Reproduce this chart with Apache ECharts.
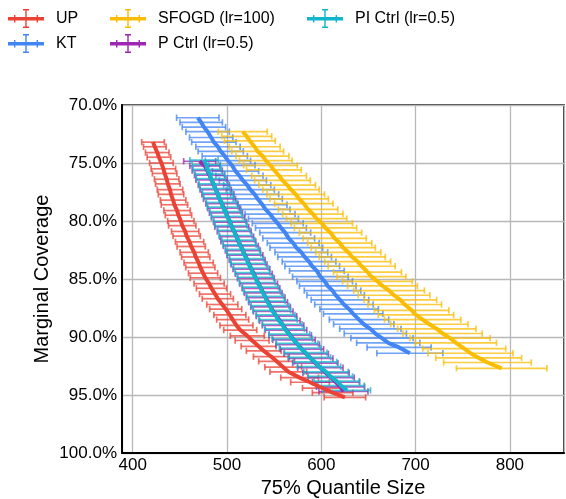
<!DOCTYPE html>
<html>
<head>
<meta charset="utf-8">
<script src="https://cdn.jsdelivr.net/npm/echarts@6/dist/echarts.min.js"></script>
<style>
html, body { margin: 0; padding: 0; background: #ffffff; }
#chart { width: 566px; height: 499px; }
</style>
</head>
<body>
<div id="chart"></div>
<script>
// Tick labels
const xTicks = [400, 500, 600, 700, 800];
const yTicks = [70, 75, 80, 85, 90, 95, 100];

// UP
const upCov = [73.2, 73.6, 74.1, 74.5, 75.0, 75.5, 75.9, 76.4, 76.8, 77.3,
  77.7, 78.2, 78.6, 79.1, 79.5, 80.0, 80.4, 80.9, 81.3, 81.8,
  82.2, 82.7, 83.1, 83.6, 84.0, 84.5, 84.9, 85.4, 85.8, 86.3,
  86.7, 87.2, 87.6, 88.1, 88.5, 89.0, 89.4, 89.9, 90.3, 90.8,
  91.2, 91.7, 92.1, 92.6, 93.0, 93.5, 93.9, 94.4, 94.8, 95.2];
const upSize = [421.5, 423.4, 426.0, 427.8, 430.4, 432.5, 433.8, 436.0, 437.2, 439.5,
  440.6, 442.8, 444.2, 447.0, 448.5, 451.0, 452.5, 455.6, 457.2, 460.3,
  462.0, 465.2, 466.8, 469.9, 471.7, 474.6, 477.0, 481.0, 483.5, 487.3,
  490.2, 495.0, 498.6, 503.0, 506.0, 510.0, 514.0, 521.5, 526.6, 533.5,
  539.0, 547.0, 552.6, 559.6, 565.0, 577.0, 588.0, 601.0, 612.0, 625.0];
const upErr = [12, 12, 12.5, 12.5, 12.5, 13, 13, 13, 13, 13.5,
  13.5, 13.5, 14, 14, 14, 14, 14.5, 14.5, 14.5, 15,
  15, 15, 15, 15.5, 15.5, 15.5, 16, 16, 16, 16.5,
  16.5, 16.5, 17, 17, 17, 17.5, 17.5, 18, 18, 18.5,
  18.5, 19, 19, 19.5, 19.5, 20, 20.5, 21, 21.5, 22];

// KT
const ktCov = [71.1, 71.5, 71.9, 72.3, 72.8, 73.2, 73.6, 74.0, 74.4, 74.8,
  75.2, 75.7, 76.1, 76.5, 76.9, 77.3, 77.7, 78.1, 78.6, 79.0,
  79.4, 79.8, 80.2, 80.6, 81.0, 81.5, 81.9, 82.3, 82.7, 83.1,
  83.5, 83.9, 84.3, 84.8, 85.2, 85.6, 86.0, 86.4, 86.8, 87.2,
  87.6, 88.0, 88.5, 88.9, 89.3, 89.7, 90.1, 90.5, 90.9, 91.4];
const ktSize = [469.0, 472.6, 475.5, 479.4, 483.2, 486.0, 490.4, 493.3, 497.6, 501.0,
  505.2, 509.0, 513.2, 516.8, 521.4, 524.7, 529.3, 532.6, 537.6, 540.8,
  545.6, 549.2, 553.8, 557.2, 561.7, 565.4, 570.2, 573.5, 578.8, 582.3,
  587.0, 590.4, 595.3, 599.0, 603.6, 606.8, 611.9, 615.2, 619.8, 624.0,
  629.5, 633.8, 640.0, 645.0, 652.0, 657.3, 664.3, 671.0, 682.5, 693.9];
const ktErr = [22.5, 22.5, 23, 23, 23, 23.5, 23.5, 24, 24, 24,
  24.5, 24.5, 25, 25, 25, 25.5, 25.5, 26, 26, 26,
  26.5, 26.5, 27, 27, 27, 27.5, 27.5, 28, 28, 28.5,
  28.5, 29, 29, 29.5, 29.5, 30, 30, 30.5, 30.5, 31,
  31, 31.5, 31.5, 32, 32.5, 33, 33, 33.5, 34, 35];

// SFOGD (lr=100)
const sfCov = [72.3, 72.7, 73.1, 73.6, 74.0, 74.4, 74.8, 75.2, 75.6, 76.1,
  76.5, 76.9, 77.3, 77.7, 78.1, 78.5, 79.0, 79.4, 79.8, 80.2,
  80.6, 81.0, 81.5, 81.9, 82.3, 82.7, 83.1, 83.5, 83.9, 84.4,
  84.8, 85.2, 85.6, 86.0, 86.4, 86.8, 87.2, 87.7, 88.1, 88.5,
  88.9, 89.3, 89.7, 90.1, 90.5, 91.0, 91.4, 91.8, 92.2, 92.7];
const sfSize = [516.7, 520.9, 524.2, 529.3, 532.5, 537.6, 541.2, 546.1, 549.7, 555.2,
  558.8, 563.8, 567.9, 572.9, 576.5, 581.4, 586.0, 591.0, 595.0, 600.6,
  604.5, 609.8, 614.2, 619.5, 623.3, 628.6, 632.8, 638.5, 642.8, 649.0,
  653.2, 659.6, 664.9, 671.9, 677.1, 683.8, 688.5, 695.8, 700.4, 707.5,
  714.6, 722.5, 728.7, 736.6, 742.8, 751.6, 758.3, 766.9, 776.2, 791.3];
const sfErr = [26, 26.5, 27, 27, 27.5, 28, 28, 28.5, 29, 29,
  29.5, 30, 30, 30.5, 31, 31, 31.5, 32, 32, 32.5,
  33, 33, 33.5, 34, 34, 34.5, 35, 35, 35.5, 36,
  36.5, 37, 37, 37.5, 38, 38.5, 39, 39.5, 40, 40.5,
  41, 41.5, 42, 42.5, 43, 44, 45, 45.5, 46.5, 48];

// P Ctrl (lr=0.5)
const pCov = [74.85, 75.25, 75.65, 76.05, 76.45, 76.9, 77.3, 77.7, 78.1, 78.5,
  78.9, 79.3, 79.7, 80.1, 80.5, 80.9, 81.35, 81.75, 82.15, 82.55,
  82.95, 83.35, 83.75, 84.15, 84.55, 84.95, 85.4, 85.8, 86.2, 86.6,
  87.0, 87.4, 87.8, 88.2, 88.6, 89.0, 89.4, 89.85, 90.25, 90.65,
  91.05, 91.45, 91.85, 92.25, 92.65, 93.1, 93.5, 93.9, 94.3, 94.7];
const pSize = [471.0, 476.5, 479.0, 481.5, 483.5, 486.0, 488.0, 490.3, 492.0, 494.5,
  496.6, 498.8, 501.0, 503.2, 505.0, 507.6, 510.2, 512.0, 514.6, 516.8,
  519.0, 521.4, 523.4, 525.9, 528.4, 530.6, 533.5, 536.0, 538.4, 541.0,
  543.6, 546.2, 549.0, 552.4, 556.0, 559.4, 562.6, 567.0, 571.0, 575.0,
  579.4, 584.0, 588.8, 593.6, 599.0, 605.0, 610.4, 615.6, 620.4, 623.5];
const pErr = [17, 16, 16, 16, 16.5, 16.5, 16.5, 17, 17, 17,
  17, 17.5, 17.5, 17.5, 18, 18, 18, 18.5, 18.5, 18.5,
  19, 19, 19, 19.5, 19.5, 19.5, 20, 20, 20, 20.5,
  20.5, 21, 21, 21.5, 21.5, 22, 22, 22.5, 22.5, 23,
  23, 23.5, 23.5, 24, 24, 24.5, 24.5, 25, 25.5, 26];

// PI Ctrl (lr=0.5)
const piCov = [74.75, 75.15, 75.55, 75.95, 76.35, 76.8, 77.2, 77.6, 78.0, 78.4,
  78.8, 79.2, 79.6, 80.0, 80.4, 80.8, 81.25, 81.65, 82.05, 82.45,
  82.85, 83.25, 83.65, 84.05, 84.45, 84.85, 85.3, 85.7, 86.1, 86.5,
  86.9, 87.3, 87.7, 88.1, 88.5, 88.9, 89.3, 89.75, 90.15, 90.55,
  90.95, 91.35, 91.75, 92.15, 92.55, 93.0, 93.4, 93.8, 94.2, 94.6];
const piSize = [475.6, 477.9, 479.0, 481.8, 483.0, 485.9, 487.2, 490.0, 491.3, 494.2,
  495.4, 498.4, 499.9, 502.9, 504.3, 507.3, 509.0, 512.0, 513.4, 516.4,
  517.8, 520.8, 522.3, 525.5, 527.0, 530.2, 532.1, 535.4, 537.2, 540.5,
  542.2, 545.6, 547.4, 551.6, 554.0, 558.6, 561.0, 566.2, 569.2, 574.4,
  577.5, 583.4, 587.3, 593.4, 597.6, 605.0, 609.6, 616.3, 621.0, 627.2];
const piErr = [15, 15, 15, 15.5, 15.5, 15.5, 16, 16, 16, 16,
  16.5, 16.5, 16.5, 17, 17, 17, 17.5, 17.5, 17.5, 18,
  18, 18, 18.5, 18.5, 18.5, 19, 19, 19, 19.5, 19.5,
  19.5, 20, 20, 20.5, 20.5, 21, 21, 21.5, 21.5, 22,
  22, 22.5, 22.5, 23, 23, 23.5, 23.5, 24, 24.5, 25];

const methods = [
  { name: 'UP', color: '#ea4335', cov: upCov, size: upSize, err: upErr },
  { name: 'KT', color: '#4285f4', cov: ktCov, size: ktSize, err: ktErr },
  { name: 'SFOGD (lr=100)', color: '#fbbc04', cov: sfCov, size: sfSize, err: sfErr },
  { name: 'P Ctrl (lr=0.5)', color: '#9c27b0', cov: pCov, size: pSize, err: pErr },
  { name: 'PI Ctrl (lr=0.5)', color: '#12b5cb', cov: piCov, size: piSize, err: piErr }
];

const FONT = 'Liberation Sans, Arial, Helvetica, sans-serif';

// Legend glyph: line with horizontal and vertical error bars
const errIcon = 'path://M0 8H36V11.5H0Z M17.3 0H18.7V19H17.3Z M15 0H21V1.4H15Z M15 17.6H21V19H15Z ' +
  'M6 6H7.4V13.5H6Z M28.6 6H30V13.5H28.6Z';

function errorBarRenderer(color) {
  return function (params, api) {
    const x = api.value(0), y = api.value(1), e = api.value(2);
    const a = api.coord([x - e, y]);
    const b = api.coord([x + e, y]);
    const style = { stroke: color, lineWidth: 1.7, opacity: 0.75 };
    const h = 3.2;
    return {
      type: 'group',
      children: [
        { type: 'line', shape: { x1: a[0], y1: a[1], x2: b[0], y2: b[1] }, style: style },
        { type: 'line', shape: { x1: a[0], y1: a[1] - h, x2: a[0], y2: a[1] + h }, style: style },
        { type: 'line', shape: { x1: b[0], y1: b[1] - h, x2: b[0], y2: b[1] + h }, style: style }
      ]
    };
  };
}

const series = [];
methods.forEach(function (m) {
  const pts = m.cov.map(function (c, i) { return [m.size[i], c, m.err[i]]; });
  series.push({
    name: m.name,
    type: 'custom',
    renderItem: errorBarRenderer(m.color),
    encode: { x: 0, y: 1 },
    itemStyle: { color: m.color },
    data: pts,
    silent: true
  });
  series.push({
    name: m.name,
    type: 'line',
    data: pts.map(function (p) { return [p[0], p[1]]; }),
    showSymbol: false,
    symbol: 'none',
    color: m.color,
    itemStyle: { color: m.color },
    lineStyle: { color: m.color, width: 4 },
    silent: true
  });
});

function legendBlock(names, left) {
  return {
    orient: 'vertical',
    left: left,
    top: 4,
    itemWidth: 36,
    itemHeight: 19,
    itemGap: 6,
    icon: errIcon,
    itemStyle: { borderWidth: 0 },
    selectedMode: false,
    textStyle: { fontSize: 16, color: '#000', fontFamily: FONT, padding: [0, 0, 0, 7] },
    data: names.map(function (n) { return { name: n, icon: errIcon }; })
  };
}

const chart = echarts.init(document.getElementById('chart'), null, { renderer: 'canvas' });
chart.setOption({
  animation: false,
  backgroundColor: '#ffffff',
  textStyle: { fontFamily: FONT },
  legend: [
    legendBlock(['UP', 'KT'], 3),
    legendBlock(['SFOGD (lr=100)', 'P Ctrl (lr=0.5)'], 105),
    legendBlock(['PI Ctrl (lr=0.5)'], 302)
  ],
  grid: {
    left: 122, right: 2, top: 105, bottom: 46,
    outerBoundsMode: 'none',
    containLabel: false,
    show: true, borderColor: '#000', borderWidth: 1.5, backgroundColor: 'transparent'
  },
  xAxis: {
    type: 'value',
    min: 388.6,
    max: 857.4,
    splitNumber: 5,
    name: '75% Quantile Size',
    nameLocation: 'middle',
    nameGap: 25,
    nameMoveOverlap: false,
    nameTextStyle: { fontSize: 20, color: '#000', fontFamily: FONT },
    axisLine: { show: true, lineStyle: { color: '#000', width: 2 } },
    axisTick: { show: false },
    axisLabel: {
      fontSize: 17, color: '#000', margin: 4, fontFamily: FONT,
      showMinLabel: false, showMaxLabel: false,
      formatter: function (v) { return xTicks.indexOf(v) >= 0 ? String(v) : ''; }
    },
    splitLine: { show: true, lineStyle: { color: '#b8b8b8', width: 1.3 } }
  },
  yAxis: {
    type: 'value',
    inverse: true,
    min: 70,
    max: 100,
    interval: 5,
    name: 'Marginal Coverage',
    nameLocation: 'middle',
    nameGap: 70,
    nameMoveOverlap: false,
    nameRotate: 90,
    nameTextStyle: { fontSize: 20, color: '#000', fontFamily: FONT },
    axisLine: { show: true, lineStyle: { color: '#000', width: 2 } },
    axisTick: { show: false },
    axisLabel: {
      fontSize: 17, color: '#000', margin: 5, fontFamily: FONT,
      formatter: function (v) { return yTicks.indexOf(v) >= 0 ? v.toFixed(1) + '%' : ''; }
    },
    splitLine: { show: true, lineStyle: { color: '#b8b8b8', width: 1.3 } }
  },
  series: series
});
</script>
</body>
</html>
